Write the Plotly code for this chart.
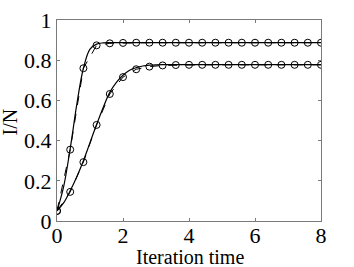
import plotly.graph_objects as go

# model curves (solid)
x_model = [0, 0.2, 0.4, 0.6, 0.8, 1.0, 1.2, 1.4, 1.6, 1.8, 2.0, 2.2, 2.4, 2.6, 2.8, 3.0, 3.2, 4, 5, 6, 7, 8]
upper_model = [0.05, 0.17, 0.36, 0.58, 0.76, 0.855, 0.88, 0.886, 0.887, 0.887, 0.887, 0.887, 0.887, 0.887, 0.887,
               0.887, 0.887, 0.887, 0.887, 0.887, 0.887, 0.887]
lower_model = [0.05, 0.09, 0.15, 0.22, 0.30, 0.39, 0.48, 0.565, 0.64, 0.69, 0.725, 0.75, 0.763, 0.771, 0.775,
               0.777, 0.778, 0.778, 0.778, 0.778, 0.778, 0.778]

# simulation points (dashed + circles)
x_sim = [0, 0.4, 0.8, 1.2, 1.6, 2.0, 2.4, 2.8, 3.2, 3.6, 4.0, 4.4, 4.8, 5.2, 5.6, 6.0, 6.4, 6.8, 7.2, 7.6, 8.0]
upper_sim = [0.05, 0.355, 0.76, 0.874, 0.884, 0.886, 0.887, 0.887, 0.887, 0.887, 0.887, 0.887, 0.887, 0.887,
             0.887, 0.887, 0.887, 0.887, 0.887, 0.887, 0.887]
lower_sim = [0.05, 0.145, 0.293, 0.478, 0.632, 0.716, 0.755, 0.768, 0.774, 0.776, 0.777, 0.777, 0.777, 0.777,
             0.777, 0.777, 0.777, 0.777, 0.777, 0.777, 0.777]

x_ticks = [0, 2, 4, 6, 8]
y_ticks = [0, 0.2, 0.4, 0.6, 0.8, 1]
y_tick_labels = ["0", "0.2", "0.4", "0.6", "0.8", "1"]

fig = go.Figure()
for ym in (upper_model, lower_model):
    fig.add_trace(go.Scatter(x=x_model, y=ym, mode="lines", line=dict(color="black", width=1.2, shape="spline"),
                             showlegend=False, hoverinfo="skip"))
for ys in (upper_sim, lower_sim):
    fig.add_trace(go.Scatter(x=x_sim, y=ys, mode="lines+markers",
                             line=dict(color="black", width=1, dash="dash"),
                             marker=dict(symbol="circle-open", size=7, color="black", line=dict(width=1)),
                             showlegend=False))

serif = "Liberation Serif"
axis_common = dict(showline=True, linecolor="#7a7a7a", linewidth=1, mirror="ticks", ticks="inside",
                   ticklen=3, tickcolor="#7a7a7a", showgrid=False, zeroline=False, automargin=False,
                   ticklabeloverflow="allow",
                   tickfont=dict(family=serif, size=22, color="black"))

fig.update_layout(
    width=354, height=267,
    margin=dict(l=57, r=33, t=20, b=46),
    paper_bgcolor="white", plot_bgcolor="white",
    xaxis=dict(range=[0, 8], tickvals=x_ticks, ticktext=[str(v) for v in x_ticks],
               ticklabelstandoff=-5, **axis_common),
    yaxis=dict(range=[0, 1], tickvals=y_ticks, ticktext=y_tick_labels, **axis_common),
    annotations=[
        dict(text="Iteration time", x=0.504, y=-0.178, xref="paper", yref="paper", xanchor="center",
             yanchor="middle", showarrow=False, font=dict(family=serif, size=20, color="black")),
        dict(text="I/N", x=-0.178, y=0.49, xref="paper", yref="paper", xanchor="center", yanchor="middle",
             textangle=-90, showarrow=False, font=dict(family=serif, size=20, color="black")),
    ],
)

fig.write_html("out.html", config={"displayModeBar": False},
               post_script="document.body.style.margin='0';")
